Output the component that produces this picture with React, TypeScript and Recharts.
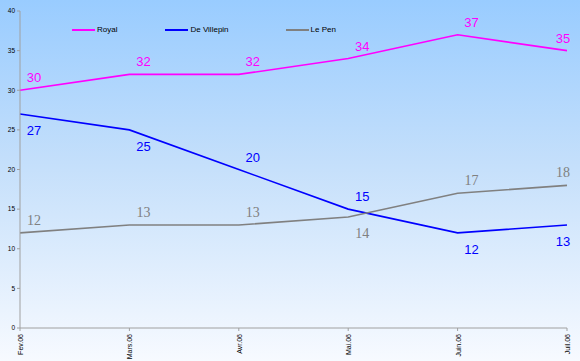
import React from "react";
import {
  LineChart,
  Line,
  XAxis,
  YAxis,
  LabelList,
} from "recharts";

const MONTHS = ["Fev.06", "Mars.06", "Avr.06", "Mai.06", "Juin.06", "Juil.06"];
const ROYAL = [30, 32, 32, 34, 37, 35];
const VILLEPIN = [27, 25, 20, 15, 12, 13];
const LEPEN = [12, 13, 13, 14, 17, 18];
const Y_TICKS = [0, 5, 10, 15, 20, 25, 30, 35, 40];

// where each value label sits relative to its point
const ROYAL_POS = ["up", "up", "up", "up", "up", "up"];
const VILLEPIN_POS = ["down", "down", "up", "up", "down", "down"];
const LEPEN_POS = ["up", "up", "up", "down", "up", "up"];

const SERIES = [
  { key: "royal", name: "Royal", color: "#FF00FF" },
  { key: "villepin", name: "De Villepin", color: "#0000FF" },
  { key: "lepen", name: "Le Pen", color: "#808080" },
];

const data = MONTHS.map((m, i) => ({
  month: m,
  royal: ROYAL[i],
  villepin: VILLEPIN[i],
  lepen: LEPEN[i],
}));

const SANS = "'Liberation Sans', Arial, sans-serif";
const SERIF = "'Liberation Serif', 'Times New Roman', serif";

const makeLabel =
  (color: string, pos: string[], font: string, size: number) =>
  (props: any) => {
    const { x, y, value, index } = props;
    const up = pos[index] === "up";
    const last = index === MONTHS.length - 1;
    return (
      <text
        x={x + (last ? -4 : 14)}
        y={y + (up ? -8 : 21)}
        fill={color}
        fontSize={size}
        fontFamily={font}
        textAnchor="middle"
      >
        {value}
      </text>
    );
  };

const XTick = (props: any) => {
  const { x, y, payload } = props;
  return (
    <text
      x={x + 3}
      y={y + 1}
      transform={`rotate(-90 ${x + 3} ${y + 1})`}
      textAnchor="end"
      fontSize={7}
      fontFamily={SANS}
      fill="#000"
    >
      {payload.value}
    </text>
  );
};

const legendGaps = [48, 57, 0];

export default function App() {
  return (
    <div
      style={{
        position: "absolute",
        left: 0,
        top: 0,
        width: 580,
        height: 361,
        background: "linear-gradient(to bottom, #99CCFF 0%, #C4DFFB 45%, #F7FAFF 100%)",
      }}
    >
      <div
        style={{
          position: "absolute",
          left: 72,
          top: 25,
          display: "flex",
          alignItems: "center",
          zIndex: 2,
        }}
      >
        {SERIES.map((s, i) => (
          <div key={s.key} style={{ display: "flex", alignItems: "center", marginRight: legendGaps[i] }}>
            <div style={{ width: 23, height: 2, background: s.color }} />
            <span style={{ fontFamily: SANS, fontSize: 8, color: "#000", marginLeft: 2 }}>{s.name}</span>
          </div>
        ))}
      </div>
      <LineChart
        width={580}
        height={361}
        data={data}
        margin={{ top: 11, right: 13, left: 0, bottom: 0 }}
      >
        <XAxis
          dataKey="month"
          interval={0}
          height={33}
          stroke="#A0A0A0"
          tickSize={3}
          tick={<XTick />}
        />
        <YAxis
          domain={[0, 40]}
          ticks={Y_TICKS}
          width={20}
          stroke="#A0A0A0"
          tickSize={3}
          tick={{ fontSize: 6.5, fill: "#000", fontFamily: SANS }}
        />
        <Line
          name="Royal"
          dataKey="royal"
          stroke="#FF00FF"
          strokeWidth={1.6}
          dot={false}
          type="linear"
          isAnimationActive={false}
        >
          <LabelList dataKey="royal" content={makeLabel("#FF00FF", ROYAL_POS, SANS, 13)} />
        </Line>
        <Line
          name="De Villepin"
          dataKey="villepin"
          stroke="#0000FF"
          strokeWidth={1.6}
          dot={false}
          type="linear"
          isAnimationActive={false}
        >
          <LabelList dataKey="villepin" content={makeLabel("#0000FF", VILLEPIN_POS, SANS, 13)} />
        </Line>
        <Line
          name="Le Pen"
          dataKey="lepen"
          stroke="#808080"
          strokeWidth={1.6}
          dot={false}
          type="linear"
          isAnimationActive={false}
        >
          <LabelList dataKey="lepen" content={makeLabel("#808080", LEPEN_POS, SERIF, 14)} />
        </Line>
      </LineChart>
    </div>
  );
}
